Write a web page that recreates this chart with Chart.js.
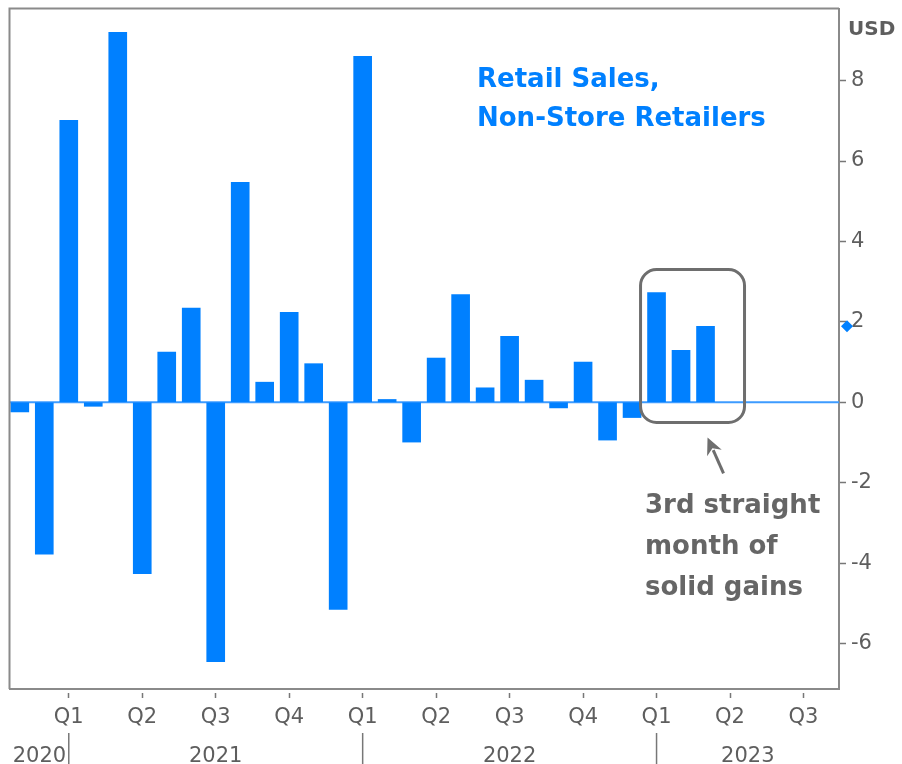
<!DOCTYPE html>
<html><head><meta charset="utf-8">
<script src="https://cdn.jsdelivr.net/npm/chart.js@4.4.0/dist/chart.umd.min.js"></script>
<style>html,body{margin:0;padding:0;background:#fff}#wrap{width:902px;height:764px;position:relative}</style>
</head><body><div id="wrap"><canvas id="c" width="902" height="764"></canvas></div>
<script>
// ---- data ----
const months = ['2020-11','2020-12',
  '2021-01','2021-02','2021-03','2021-04','2021-05','2021-06','2021-07','2021-08','2021-09','2021-10','2021-11','2021-12',
  '2022-01','2022-02','2022-03','2022-04','2022-05','2022-06','2022-07','2022-08','2022-09','2022-10','2022-11','2022-12',
  '2023-01','2023-02','2023-03'];
const values = [-0.24,-3.78,
  7.01,-0.10,9.20,-4.26,1.25,2.34,-6.45,5.47,0.50,2.24,0.96,-5.15,
  8.60,0.07,-0.99,1.10,2.68,0.36,1.64,0.55,-0.14,1.00,-0.94,-0.38,
  2.73,1.29,1.89];
const quarterTickMonths = ['2021-01','2021-04','2021-07','2021-10','2022-01','2022-04','2022-07','2022-10','2023-01','2023-04','2023-07'];
const quarterTickLabels = ['Q1','Q2','Q3','Q4','Q1','Q2','Q3','Q4','Q1','Q2','Q3'];
const years = ['2020','2021','2022','2023'];
const yearStartMonths = ['2021-01','2022-01','2023-01'];
const yTicks = [-6,-4,-2,0,2,4,6,8];
const titleLines = ['Retail Sales,','Non-Store Retailers'];
const noteLines = ['3rd straight','month of','solid gains'];
const unitLabel = 'USD';

function monthIndex(ym){const [y,m]=ym.split('-').map(Number);return (y-2020)*12+m-11;}

const BLUE='#0080ff', GRAY='#5e5e5e', FRAME='#8a8a8a';
const FONT='"DejaVu Sans", Verdana, sans-serif';

const decor = {
  id:'decor',
  beforeDatasetsDraw(chart){
    const {ctx, chartArea:a, scales:{y}} = chart;
    const y0 = y.getPixelForValue(0);
    ctx.save();
    ctx.strokeStyle='#3d9bff'; ctx.lineWidth=2;
    ctx.beginPath(); ctx.moveTo(a.left,y0); ctx.lineTo(a.right,y0); ctx.stroke();
    ctx.restore();
  },
  afterDraw(chart){
    const {ctx, chartArea:a, scales:{x,y}} = chart;
    ctx.save();
    // frame left/top
    ctx.strokeStyle=FRAME; ctx.lineWidth=2;
    ctx.beginPath(); ctx.moveTo(a.left-0.5,a.bottom); ctx.lineTo(a.left-0.5,a.top-0.5); ctx.lineTo(a.right,a.top-0.5); ctx.stroke();
    // year separators and labels
    const seps = yearStartMonths.map(m=>x.getPixelForValue(monthIndex(m)));
    ctx.strokeStyle='#777'; ctx.lineWidth=1.5;
    seps.forEach(px=>{ctx.beginPath(); ctx.moveTo(px,733); ctx.lineTo(px,764); ctx.stroke();});
    const bounds=[a.left,...seps,a.right];
    ctx.fillStyle=GRAY; ctx.font='21px '+FONT; ctx.textAlign='center'; ctx.textBaseline='alphabetic';
    years.forEach((t,i)=>ctx.fillText(t,(bounds[i]+bounds[i+1])/2,762));
    // unit label
    ctx.font='bold 20px '+FONT; ctx.textAlign='left';
    ctx.fillText(unitLabel,848,35);
    // last value diamond on axis
    const last = values[values.length-1];
    const dy = y.getPixelForValue(last), dx = a.right+8;
    ctx.fillStyle=BLUE; ctx.beginPath();
    ctx.moveTo(dx,dy-6); ctx.lineTo(dx+6,dy); ctx.lineTo(dx,dy+6); ctx.lineTo(dx-6,dy); ctx.closePath(); ctx.fill();
    // title
    ctx.fillStyle=BLUE; ctx.font='bold 26px '+FONT; ctx.textAlign='left';
    ctx.fillText(titleLines[0],477,87);
    ctx.fillText(titleLines[1],477,126);
    // highlight box
    const xL = x.getPixelForValue(monthIndex('2023-01'))-16;
    const xR = x.getPixelForValue(monthIndex('2023-03'))+39;
    const yT = y.getPixelForValue(3.3), yB = y.getPixelForValue(-0.5);
    ctx.strokeStyle='#6e6e6e'; ctx.lineWidth=3;
    ctx.beginPath(); ctx.roundRect(xL,yT,xR-xL,yB-yT,16); ctx.stroke();
    // arrow
    const tx=xR-37, ty=yB+15, sx=xR-21, sy=yB+51;
    const ang=Math.atan2(ty-sy,tx-sx);
    ctx.strokeStyle='#6e6e6e'; ctx.fillStyle='#6e6e6e'; ctx.lineWidth=3;
    const hx=tx-Math.cos(ang)*14, hy=ty-Math.sin(ang)*14;
    ctx.beginPath(); ctx.moveTo(sx,sy); ctx.lineTo(hx,hy); ctx.stroke();
    ctx.beginPath(); ctx.moveTo(tx,ty);
    ctx.lineTo(tx-Math.cos(ang)*17+Math.sin(ang)*8, ty-Math.sin(ang)*17-Math.cos(ang)*8);
    ctx.lineTo(tx-Math.cos(ang)*12, ty-Math.sin(ang)*12);
    ctx.lineTo(tx-Math.cos(ang)*17-Math.sin(ang)*8, ty-Math.sin(ang)*17+Math.cos(ang)*8);
    ctx.closePath(); ctx.fill();
    // note text
    ctx.fillStyle='#666'; ctx.font='bold 26px '+FONT;
    noteLines.forEach((t,i)=>ctx.fillText(t,645,513+i*41));
    ctx.restore();
  }
};

new Chart(document.getElementById('c'), {
  type:'bar',
  data:{datasets:[{
    data: months.map((m,i)=>({x:monthIndex(m), y:values[i]})),
    backgroundColor:BLUE, borderWidth:0, barThickness:18
  }]},
  options:{
    responsive:false, animation:false, devicePixelRatio:1,
    layout:{padding:{left:10,top:9,right:0,bottom:0}},
    plugins:{legend:{display:false}, tooltip:{enabled:false}},
    scales:{
      x:{type:'linear', min:-0.4, max:33.45, offset:false,
        afterBuildTicks:s=>{s.ticks=quarterTickMonths.map(m=>({value:monthIndex(m)}));},
        afterFit:s=>{s.height=75; s.paddingLeft=0; s.paddingRight=0;},
        ticks:{callback:(v,i)=>quarterTickLabels[i], color:GRAY, font:{family:FONT,size:21}, padding:7, maxRotation:0, autoSkip:false},
        grid:{display:true, offset:false, drawOnChartArea:false, drawTicks:true, tickLength:9, tickColor:'#777', tickWidth:1.5, tickBorderDash:[0,3,6,100]},
        border:{display:true, color:FRAME, width:2}
      },
      y:{type:'linear', position:'right', min:-7.13, max:9.78,
        afterBuildTicks:s=>{s.ticks=yTicks.map(v=>({value:v}));},
        afterFit:s=>{s.width=63; s.paddingTop=0; s.paddingBottom=0;},
        ticks:{color:GRAY, font:{family:FONT,size:21}, padding:5},
        grid:{display:true, drawOnChartArea:false, drawTicks:true, tickLength:7, tickColor:'#777', tickWidth:1.5},
        border:{display:true, color:FRAME, width:2}
      }
    }
  },
  plugins:[decor]
});
</script></body></html>
